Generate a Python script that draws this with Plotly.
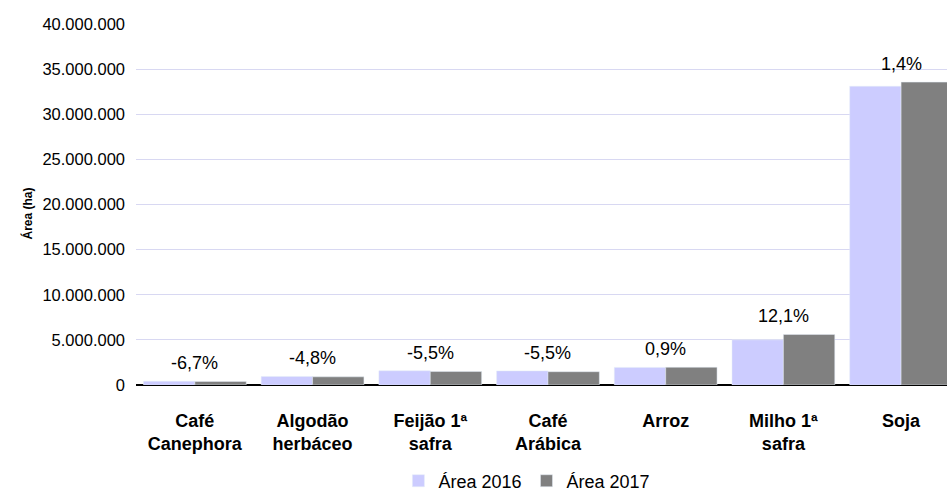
import plotly.graph_objects as go

categories = ["Café<br>Canephora", "Algodão<br>herbáceo", "Feijão 1ª<br>safra", "Café<br>Arábica",
              "Arroz", "Milho 1ª<br>safra", "Soja"]
area_2016 = [420000, 950000, 1580000, 1560000, 1950000, 5000000, 33100000]
area_2017 = [392000, 904000, 1493000, 1474000, 1968000, 5600000, 33560000]
variation_labels = ["-6,7%", "-4,8%", "-5,5%", "-5,5%", "0,9%", "12,1%", "1,4%"]
y_ticks = [0, 5000000, 10000000, 15000000, 20000000, 25000000, 30000000, 35000000, 40000000]

FONT = "Liberation Sans, Arial, sans-serif"

fig = go.Figure()
fig.add_trace(go.Bar(name="Área 2016", x=categories, y=area_2016, marker_color="#CCCCFF"))
fig.add_trace(go.Bar(name="Área 2017", x=categories, y=area_2017, marker_color="#808080"))

for c, a, b, t in zip(categories, area_2016, area_2017, variation_labels):
    fig.add_annotation(x=c, y=max(a, b), text=t, showarrow=False, yanchor="bottom",
                       yshift=6, font=dict(family=FONT, size=18, color="#000000"))

fig.add_annotation(xref="paper", yref="paper", x=(17 - 136) / 811, y=(385 - 214) / 361,
                   text="<b>Área (ha)</b>", textangle=-90, showarrow=False,
                   font=dict(family=FONT, size=12, color="#000000"))

fig.update_layout(
    width=947, height=495,
    margin=dict(l=136, r=0, t=24, b=110, autoexpand=False),
    paper_bgcolor="white", plot_bgcolor="white",
    barmode="group", bargap=0.127, bargroupgap=0,
    separators=",.",
    font=dict(family=FONT, size=16, color="#000000"),
    showlegend=True,
    legend=dict(orientation="h", x=0.482, xanchor="center", y=-0.266, yanchor="middle",
                font=dict(family=FONT, size=18, color="#000000"), itemwidth=30),
    xaxis=dict(range=[-0.5, 6.39], showgrid=False,
               tickfont=dict(family=FONT, size=18, weight="bold"),
               ticklabelstandoff=23, automargin=False, showline=False, ticks=""),
    yaxis=dict(range=[0, 40000000], tickvals=y_ticks, tickformat=",d",
               showgrid=True, gridcolor="#D8D8F2", gridwidth=1,
               zeroline=True, zerolinecolor="#000000", zerolinewidth=1.5,
               tickfont=dict(family=FONT, size=16.5), ticklabelstandoff=10,
               automargin=False, showline=False, ticks=""),
)

fig.write_html("out.html", config={"displayModeBar": False},
               post_script="document.body.style.margin='0';document.body.style.overflow='hidden';")
